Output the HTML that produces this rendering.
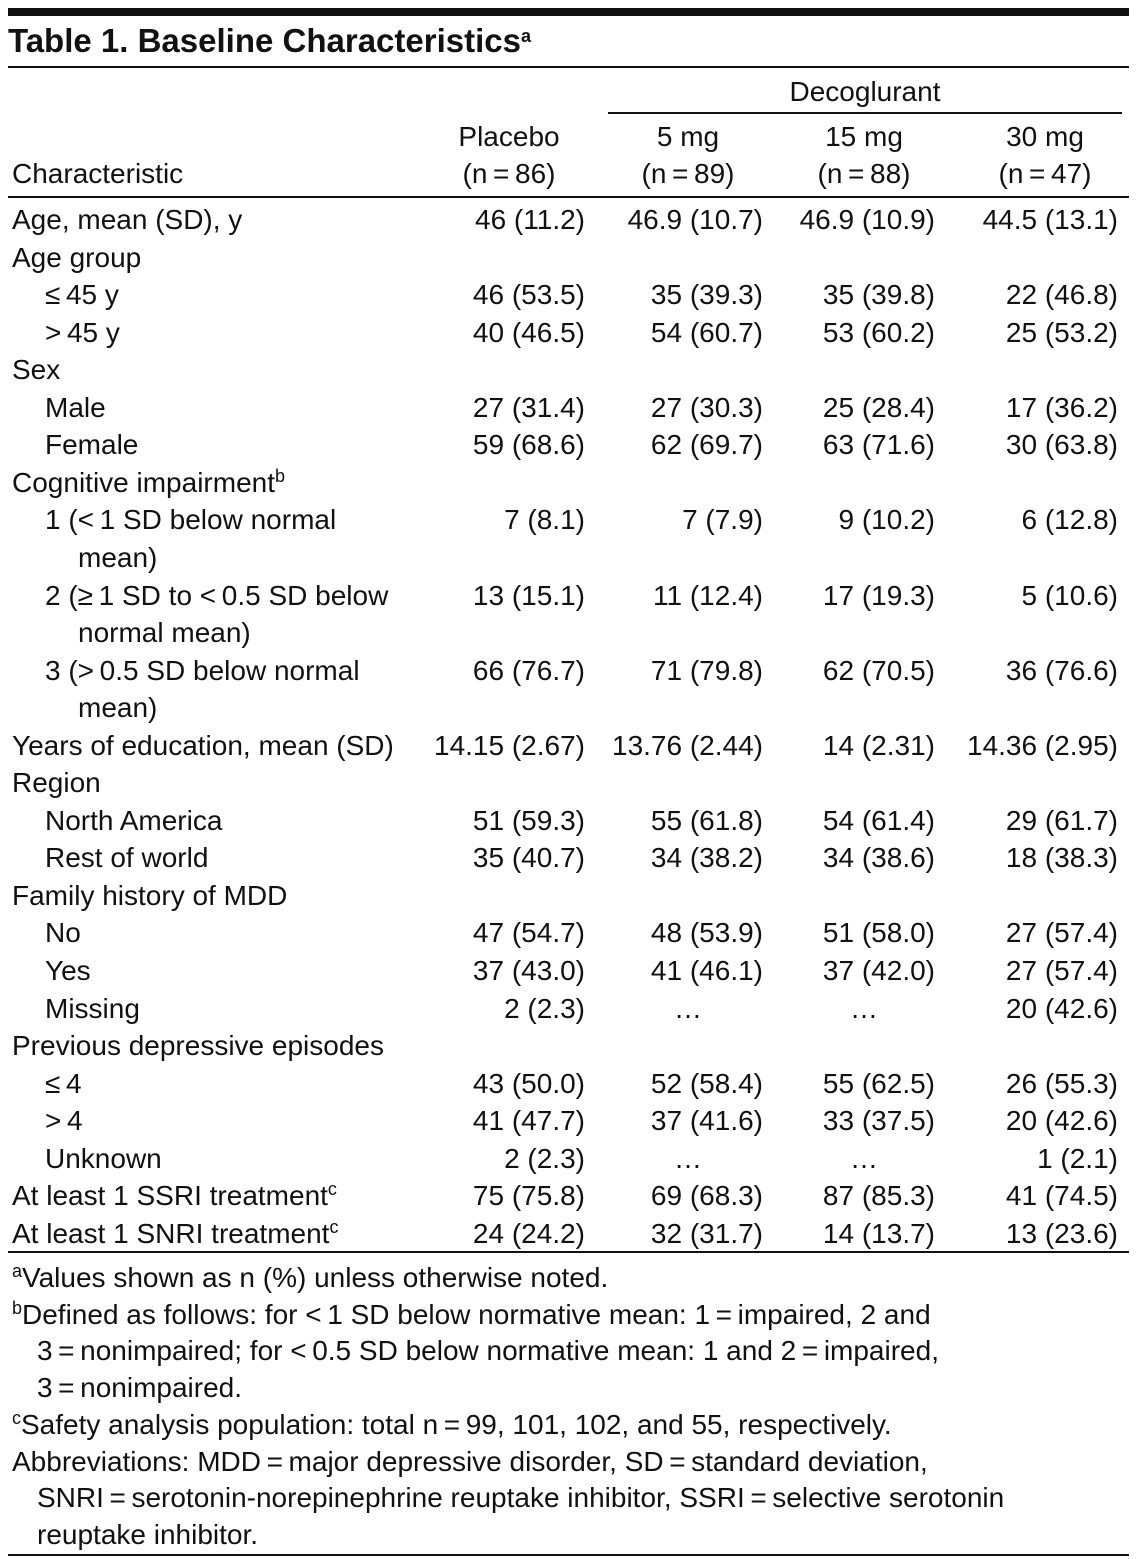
<!DOCTYPE html>
<html><head><meta charset="utf-8">
<style>
body{margin:0;background:#fff;}
#page{position:relative;width:1137px;height:1559px;overflow:hidden;background:#fff;font-family:"Liberation Sans",sans-serif;color:#111;}
.t{position:absolute;font-size:28px;line-height:28px;white-space:nowrap;}
.r{text-align:right;}
.c{text-align:center;}
.rule{position:absolute;background:#111;}
sup{font-size:18px;line-height:0;vertical-align:10px;}
</style></head>
<body>
<div id="page">
<div class="rule" style="left:8px;top:8px;width:1121px;height:8px"></div>
<div class="t" style="left:8px;top:24px;font-size:33px;line-height:33px;font-weight:bold">Table 1. Baseline Characteristics<sup>a</sup></div>
<div class="rule" style="left:8px;top:66px;width:1121px;height:2px"></div>
<div class="t c" style="left:608px;width:514px;top:78px">Decoglurant</div>
<div class="rule" style="left:608px;top:112px;width:514px;height:2px"></div>
<div class="t" style="left:12px;top:160px">Characteristic</div>
<div class="rule" style="left:8px;top:196px;width:1121px;height:2px"></div>
<div class="rule" style="left:8px;top:1251px;width:1121px;height:2px"></div>
<div class="rule" style="left:8px;top:1554px;width:1121px;height:2px"></div>
</div>
<script>
var page=document.getElementById('page');
var headers=[["Placebo","(n\u2009=\u200986)"],["5 mg","(n\u2009=\u200989)"],["15 mg","(n\u2009=\u200988)"],["30 mg","(n\u2009=\u200947)"]];
var colCenters=[509,688,864,1045];
var colRights=[585,763,935,1118];
var rows=[
["Age, mean (SD), y",0,["46 (11.2)","46.9 (10.7)","46.9 (10.9)","44.5 (13.1)"]],
["Age group",0,null],
["\u2264\u200945 y",1,["46 (53.5)","35 (39.3)","35 (39.8)","22 (46.8)"]],
[">\u200945 y",1,["40 (46.5)","54 (60.7)","53 (60.2)","25 (53.2)"]],
["Sex",0,null],
["Male",1,["27 (31.4)","27 (30.3)","25 (28.4)","17 (36.2)"]],
["Female",1,["59 (68.6)","62 (69.7)","63 (71.6)","30 (63.8)"]],
["Cognitive impairment<sup>b</sup>",0,null],
["1 (<\u20091 SD below normal",2,["7 (8.1)","7 (7.9)","9 (10.2)","6 (12.8)"]],
["mean)",3,null],
["2 (\u2265\u20091 SD to <\u20090.5 SD below",2,["13 (15.1)","11 (12.4)","17 (19.3)","5 (10.6)"]],
["normal mean)",3,null],
["3 (>\u20090.5 SD below normal",2,["66 (76.7)","71 (79.8)","62 (70.5)","36 (76.6)"]],
["mean)",3,null],
["Years of education, mean (SD)",0,["14.15 (2.67)","13.76 (2.44)","14 (2.31)","14.36 (2.95)"]],
["Region",0,null],
["North America",1,["51 (59.3)","55 (61.8)","54 (61.4)","29 (61.7)"]],
["Rest of world",1,["35 (40.7)","34 (38.2)","34 (38.6)","18 (38.3)"]],
["Family history of MDD",0,null],
["No",1,["47 (54.7)","48 (53.9)","51 (58.0)","27 (57.4)"]],
["Yes",1,["37 (43.0)","41 (46.1)","37 (42.0)","27 (57.4)"]],
["Missing",1,["2 (2.3)","\u2026","\u2026","20 (42.6)"]],
["Previous depressive episodes",0,null],
["\u2264\u20094",1,["43 (50.0)","52 (58.4)","55 (62.5)","26 (55.3)"]],
[">\u20094",1,["41 (47.7)","37 (41.6)","33 (37.5)","20 (42.6)"]],
["Unknown",1,["2 (2.3)","\u2026","\u2026","1 (2.1)"]],
["At least 1 SSRI treatment<sup>c</sup>",0,["75 (75.8)","69 (68.3)","87 (85.3)","41 (74.5)"]],
["At least 1 SNRI treatment<sup>c</sup>",0,["24 (24.2)","32 (31.7)","14 (13.7)","13 (23.6)"]]
];
var notes=[
["<sup>a</sup>Values shown as n (%) unless otherwise noted.",0],
["<sup>b</sup>Defined as follows: for <\u20091 SD below normative mean: 1\u2009=\u2009impaired, 2 and",0],
["3\u2009=\u2009nonimpaired; for <\u20090.5 SD below normative mean: 1 and 2\u2009=\u2009impaired,",1],
["3\u2009=\u2009nonimpaired.",1],
["<sup>c</sup>Safety analysis population: total n\u2009=\u200999, 101, 102, and 55, respectively.",0],
["Abbreviations: MDD\u2009=\u2009major depressive disorder, SD\u2009=\u2009standard deviation,",0],
["SNRI\u2009=\u2009serotonin-norepinephrine reuptake inhibitor, SSRI\u2009=\u2009selective serotonin",1],
["reuptake inhibitor.",1]
];
var indents=[12,45,45,78];
function mk(html,cls,left,top,width){
  var d=document.createElement('div');
  d.className='t'+(cls?' '+cls:'');
  d.style.left=left+'px';d.style.top=top+'px';
  if(width)d.style.width=width+'px';
  d.innerHTML=html;page.appendChild(d);return d;
}
headers.forEach(function(h,i){
  var a=mk(h[0],'c',colCenters[i]-90,123,180);
  
  
  var b=mk(h[1],'c',colCenters[i]-90,160,180);
  
  
});
rows.forEach(function(r,i){
  var top=220+i*37.55-14;
  var l=mk(r[0],'',indents[r[1]],top);
  
  
  if(r[2]){r[2].forEach(function(v,j){
    var isDots=v==='\u2026';
    var c=isDots?mk(v,'c',colCenters[j]-60,top,120):mk(v,'r',colRights[j]-200,top,200);
    
    
  });}
});
notes.forEach(function(n,i){
  var top=1278+i*36.7-14;
  var d=mk(n[0],'',n[1]?37:12,top);
  
  
});
</script>
</body></html>
